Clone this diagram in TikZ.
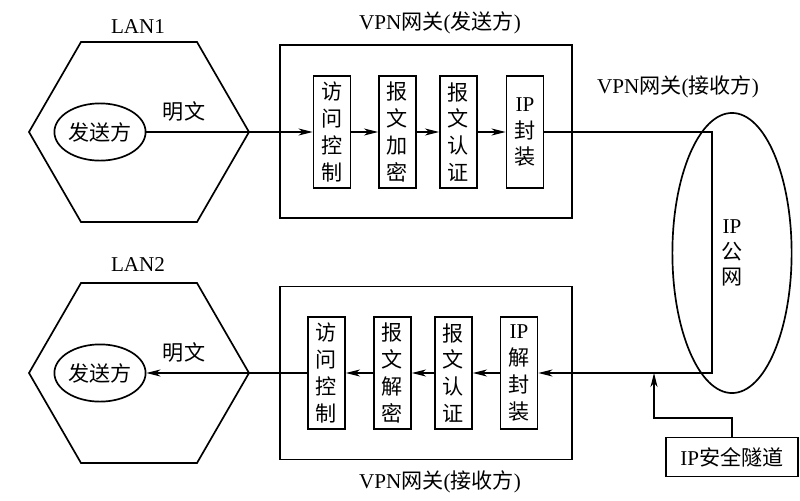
\documentclass[tikz,border=0pt]{standalone}
\usepackage{fontspec}
\setmainfont{Liberation Serif}
\newfontfamily\cjk{Noto Sans CJK SC}
\usetikzlibrary{shapes.geometric, arrows.meta}

\begin{document}
\begin{tikzpicture}[x=0.025cm, y=-0.025cm, font=\fontsize{15pt}{19pt}\selectfont, line width=0.75pt,
    >={Stealth[length=10pt, width=5pt, inset=3pt]},
    blk/.style={draw, line width=1.2pt, minimum width=0.93cm, minimum height=2.8cm, inner sep=0pt, align=center, font=\fontsize{15pt}{19pt}\selectfont\cjk},
    gw/.style={draw, line width=1.2pt, minimum width=7.3cm, minimum height=4.33cm},
    host/.style={draw, ellipse, line width=1.2pt, minimum width=2.28cm, minimum height=1.43cm, inner sep=0pt, font=\fontsize{15pt}{19pt}\selectfont\cjk},
    lan/.style={line width=1.2pt},
    cn/.style={font=\fontsize{15pt}{19pt}\selectfont\cjk}]
    \useasboundingbox (0,0) rectangle (800,500);

    % sender side
    \coordinate (lanA) at (139,132);
    \draw[lan] (lanA) +(-110,0) -- +(-58,-90) -- +(58,-90) -- +(110,0) -- +(58,90) -- +(-58,90) -- cycle;
    \node (lanAname) at (138,27) {LAN1};
    \node[host] (sendA) at (100,132) {发送方};
    \node[cn] (plainA) at (184,111) {明文};

    \node[gw] (gwA) at (426,131.5) {};
    \node (gwAname) at (440,23) {VPN{\cjk 网关}({\cjk 发送方})};
    \node[blk] (accA) at (332,132) {访\\问\\控\\制};
    \node[blk] (encA) at (397.5,132) {报\\文\\加\\密};
    \node[blk] (authA) at (458.5,132) {报\\文\\认\\证};
    \node[blk] (ipenc) at (525,132) {{\rmfamily IP}\\封\\装};

    % public network
    \node[draw, ellipse, line width=1.2pt, minimum width=2.98cm, minimum height=7cm, align=center,
        font=\fontsize{15pt}{18pt}\selectfont] (inet) at (732,253) {IP\\{\cjk 公}\\{\cjk 网}};
    \node (gwBname) at (678,87) {VPN{\cjk 网关}({\cjk 接收方})};
    \coordinate (turnA) at (712,132);
    \coordinate (turnB) at (712,373);

    % receiver side
    \coordinate (lanB) at (139,373);
    \draw[lan] (lanB) +(-110,0) -- +(-58,-90) -- +(58,-90) -- +(110,0) -- +(58,90) -- +(-58,90) -- cycle;
    \node (lanBname) at (138,265) {LAN2};
    \node[host] (recvB) at (100,373) {发送方};
    \node[cn] (plainB) at (184,352) {明文};

    \node[gw] (gwB) at (426,373) {};
    \node (gwBname2) at (440,482) {VPN{\cjk 网关}({\cjk 接收方})};
    \node[blk] (accB) at (326.5,373) {访\\问\\控\\制};
    \node[blk] (decB) at (392.5,373) {报\\文\\解\\密};
    \node[blk] (authB) at (453.5,373) {报\\文\\认\\证};
    \node[blk] (ipdec) at (519,373) {{\rmfamily IP}\\解\\封\\装};

    \node[draw, line width=1.2pt, minimum width=3.3cm, minimum height=0.98cm] (tunnel) at (732,457) {IP{\cjk 安全隧道}};
    \coordinate (tunbend) at (654,418);
    \coordinate (tuntip) at (654,373);

    \draw[->] (sendA) -- (accA);
    \draw[->] (accA) -- (encA);
    \draw[->] (encA) -- (authA);
    \draw[->] (authA) -- (ipenc);
    \draw[->] (ipenc) -- (turnA) -- (turnB) -- (ipdec);
    \draw[->] (ipdec) -- (authB);
    \draw[->] (authB) -- (decB);
    \draw[->] (decB) -- (accB);
    \draw[->] (accB) -- (recvB);
    \draw[->] (tunnel.north) |- (tunbend) -- (tuntip);
\end{tikzpicture}
\end{document}
